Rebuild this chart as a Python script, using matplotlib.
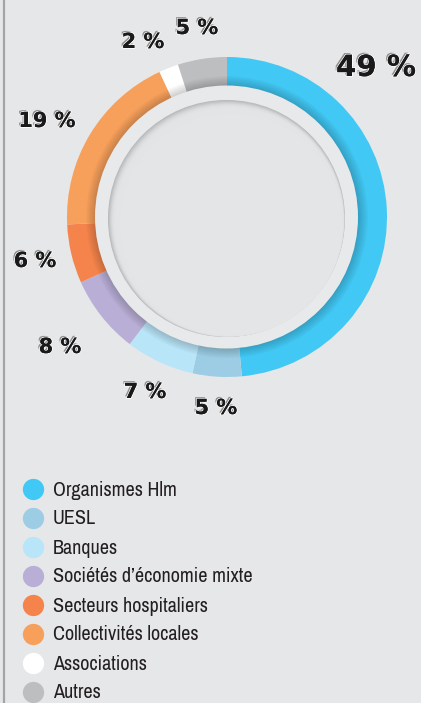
import matplotlib.pyplot as plt
import matplotlib.patheffects as pe
from matplotlib import font_manager
from matplotlib.patches import Circle, Wedge
import numpy as np

# data
categories = ['Organismes Hlm', 'UESL', 'Banques', 'Sociétés d\u2019économie mixte',
              'Secteurs hospitaliers', 'Collectivités locales', 'Associations', 'Autres']
shares = [49, 5, 7, 8, 6, 19, 2, 5]
labels = ['49 %', '5 %', '7 %', '8 %', '6 %', '19 %', '2 %', '5 %']
colors = ['#42c8f4', '#9ccde4', '#b9e5f8', '#b8aed6',
          '#f5844c', '#f7a05c', '#ffffff', '#bdbec0']

# layout (pixel space, y from top)
W, H = 421, 703
cx, cy = 227, 217
R = 160
label_xy = [(376, 68), (216, 408), (145, 392), (60, 347),
            (35, 261), (47, 121), (143, 42), (197, 28)]
label_size = [21, 15, 15, 15, 15, 15, 15, 15]
bg = '#e6e7e9'

# pick a narrow font if one is around
names = sorted({f.name for f in font_manager.fontManager.ttflist})
narrow = [n for n in names if 'Narrow' in n or 'Condensed' in n]
legend_family = narrow[:1] + ['DejaVu Sans']
legend_size = 14.5 if narrow else 11.5

fig = plt.figure(figsize=(W / 100, H / 100), dpi=100, facecolor=bg)
ax = fig.add_axes([0, 0, 1, 1])


def py(y):
    return H - y


ax.pie(shares, colors=colors, startangle=90, counterclock=False,
       center=(cx, py(cy)), radius=R, frame=True,
       wedgeprops=dict(width=40, linewidth=0))
ax.set_xlim(0, W)
ax.set_ylim(0, H)
ax.set_aspect('equal')
ax.axis('off')

# shadow of the inner disk on the ring
for i, a in enumerate(np.linspace(0.2, 0.0, 12)):
    ax.add_patch(Wedge((cx, py(cy)), 131 + i * 1.0, 0, 360, width=1.1,
                       facecolor='black', alpha=a, linewidth=0, zorder=3))

# raised disk
ax.add_patch(Circle((cx - 0.5, py(cy)), 131.5, facecolor='#e8e9eb', linewidth=0, zorder=4))
# recessed center with soft shadow at the top left
ax.add_patch(Circle((cx - 0.5, py(cy + 1.5)), 118.5, facecolor='#b3b4b6', linewidth=0, zorder=5))
for i, a in enumerate(np.linspace(0.15, 1.0, 14)):
    ax.add_patch(Circle((cx - 0.5 + i * 0.35, py(cy + 1.5 + i * 0.45)), 118.5 - i * 0.55,
                        facecolor='#e4e5e7', alpha=a, linewidth=0, zorder=6))

# percent labels
for (x, y), txt, fs in zip(label_xy, labels, label_size):
    ax.text(x, py(y), txt, ha='center', va='center', fontsize=fs,
            family='DejaVu Sans', fontweight='bold',
            color='#1a1a1a', zorder=10,
            path_effects=[pe.withSimplePatchShadow(offset=(-1.2, 1.2), shadow_rgbFace='#777777', alpha=0.8),
                          pe.withStroke(linewidth=1.2, foreground='#ffffff'), pe.Normal()])

# legend
leg_y0, leg_dy = 489, 29
for i, (name, col) in enumerate(zip(categories, colors)):
    y = py(leg_y0 + i * leg_dy)
    ax.scatter([33], [y], s=235, color=col, linewidths=0, zorder=10)
    ax.text(53, y - 1, name, ha='left', va='center', fontsize=legend_size,
            family=legend_family, color='#231f20', zorder=10)

# left border
ax.plot([4, 4], [0, H], color='#a3a4a6', lw=1.6, zorder=10)

fig.savefig('out.png', dpi=100, facecolor=bg)
